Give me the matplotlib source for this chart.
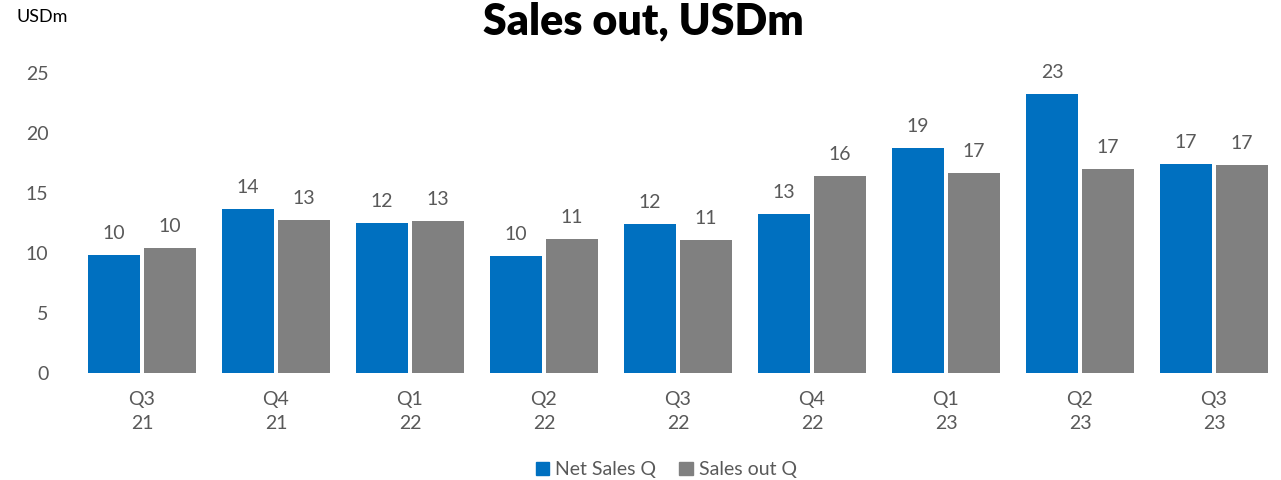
import matplotlib
matplotlib.use("Agg")
import matplotlib.pyplot as plt
from matplotlib.patches import Patch
import numpy as np

plt.rcParams["font.family"] = ["Lato", "DejaVu Sans"]

quarters = ["Q3", "Q4", "Q1", "Q2", "Q3", "Q4", "Q1", "Q2", "Q3"]
years = ["21", "21", "22", "22", "22", "22", "23", "23", "23"]
net_sales = [9.8, 13.6, 12.45, 9.7, 12.4, 13.2, 18.7, 23.25, 17.4]
sales_out = [10.4, 12.7, 12.6, 11.1, 11.05, 16.4, 16.6, 17.0, 17.3]

BLUE = "#0070C0"
GREY = "#808080"
TEXT = "#595959"

fig = plt.figure(figsize=(12.81, 4.8), dpi=100)
ax = fig.add_axes([0.0585, 0.2235, 0.9415, 0.6254])

x = np.arange(len(quarters))
w = 0.388
gap = 0.015
bars_a = ax.bar(x - w / 2 - gap, net_sales, width=w, color=BLUE)
bars_b = ax.bar(x + w / 2 + gap, sales_out, width=w, color=GREY)

for bars, vals in ((bars_a, net_sales), (bars_b, sales_out)):
    for b, v in zip(bars, vals):
        ax.annotate(f"{v:.0f}", (b.get_x() + b.get_width() / 2, v),
                    xytext=(0, 11.5), textcoords="offset points",
                    ha="center", va="baseline", fontsize=14, color=TEXT,
                    annotation_clip=False)

ax.set_xlim(-0.5, len(quarters) - 0.5)
ax.set_ylim(0, 25)
ax.set_yticks(range(0, 26, 5))
ax.set_xticks(x)
ax.set_xticklabels([f"{q}\n{y}" for q, y in zip(quarters, years)], linespacing=1.55)
ax.tick_params(axis="both", length=0, labelsize=14, labelcolor=TEXT)
ax.tick_params(axis="y", pad=19)
ax.tick_params(axis="x", pad=13)
for s in ax.spines.values():
    s.set_visible(False)

fig.text(0.502, 0.955, "Sales out, USDm", ha="center", va="center",
         fontsize=31, fontweight="heavy", color="black")
fig.text(0.0125, 0.965, "USDm", ha="left", va="center", fontsize=13, color="black")

handles = [Patch(color=BLUE, label="Net Sales Q"), Patch(color=GREY, label="Sales out Q")]
fig.legend(handles=handles, loc="center", bbox_to_anchor=(0.52, 0.021), ncol=2,
           frameon=False, fontsize=14, labelcolor=TEXT, handlelength=0.7,
           handleheight=0.7, handletextpad=0.3, columnspacing=1.2)

fig.savefig("out.png", dpi=100)
